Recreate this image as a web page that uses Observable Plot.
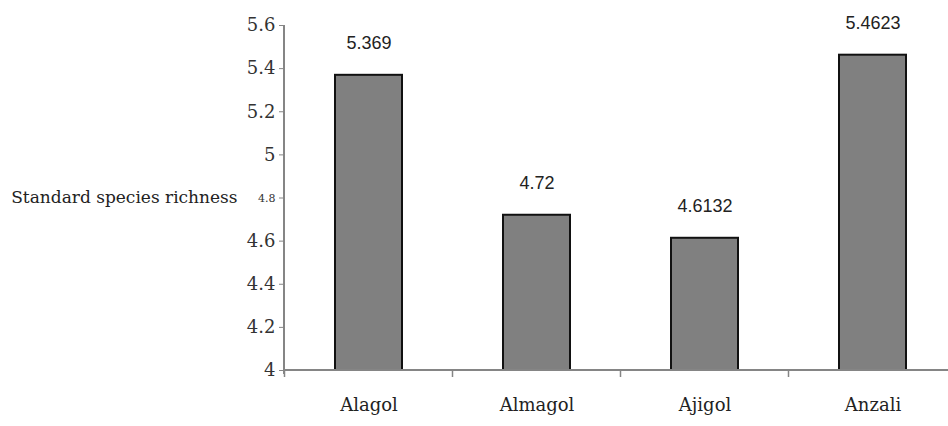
<!DOCTYPE html>
<html>
<head>
<meta charset="utf-8">
<script src="https://cdn.jsdelivr.net/npm/d3@7"></script>
<script src="https://cdn.jsdelivr.net/npm/@observablehq/plot@0.6"></script>
<style>
  html, body { margin: 0; padding: 0; background: #fff; overflow: hidden; }
  #chart svg { display: block; }
</style>
</head>
<body>
<div id="chart"></div>
<script>
// Standard species richness by wetland
const sites = ["Alagol", "Almagol", "Ajigol", "Anzali"];
const richness = [5.369, 4.72, 4.6132, 5.4623];
const valueLabels = ["5.369", "4.72", "4.6132", "5.4623"];
const yTicks = [4, 4.2, 4.4, 4.6, 4.8, 5, 5.2, 5.4, 5.6];
const yTitle = "Standard species richness";

const data = sites.map((site, i) => ({site, value: richness[i], label: valueLabels[i]}));

const serif = "DejaVu Serif";
const axisGray = "#858585";
const fmt = d => String(+d.toFixed(1));

// Axis lines and the category boundary ticks, placed from the scales
function axes(index, scales, values, dimensions) {
  const {x, y} = scales;
  const {width, marginLeft} = dimensions;
  const step = x(sites[1]) - x(sites[0]);
  const bw = typeof x.bandwidth === "function" ? x.bandwidth() : (x.bandwidth ?? step * 0.4);
  const g = d3.create("svg:g").attr("stroke", axisGray).attr("fill", "none");
  const y0 = y(4), y1 = y(5.6);
  g.append("line").attr("x1", marginLeft).attr("x2", width).attr("y1", y0).attr("y2", y0).attr("stroke-width", 2);
  g.append("line").attr("x1", marginLeft).attr("x2", marginLeft).attr("y1", y1).attr("y2", y0 + 4).attr("stroke-width", 2);
  for (let i = 0; i <= sites.length; i++) {
    const c = i < sites.length ? x(sites[i]) + bw / 2 - step / 2 : x(sites[i - 1]) + bw / 2 + step / 2;
    g.append("line").attr("x1", c).attr("x2", c).attr("y1", y0).attr("y2", y0 + 7).attr("stroke-width", 1.5);
  }
  return g.node();
}

const chart = Plot.plot({
  width: 948,
  height: 426,
  marginTop: 25,
  marginBottom: 56,
  marginLeft: 284,
  marginRight: 0,
  style: {background: "#fff", overflow: "hidden"},
  x: {domain: sites, range: [284, 958], paddingInner: 0.6, paddingOuter: 0.3, axis: null},
  y: {domain: [4, 5.6], axis: null},
  marks: [
    Plot.barY(data, {x: "site", y1: 4, y2: "value", fill: "#808080", stroke: "#111", strokeWidth: 2}),
    Plot.text(data, {x: "site", y: "value", text: "label", dy: -32, fontFamily: "Liberation Sans, Arial, sans-serif", fontSize: 18, fill: "#222"}),
    axes,
    Plot.axisY(yTicks, {ticks: yTicks, tickSize: 5, tickPadding: 4, tickFormat: d => d === 4.8 ? "" : fmt(d), fontFamily: serif, fontSize: 18, fill: "#333", stroke: axisGray, label: null}),
    Plot.text([4.8], {y: d => d, text: d => fmt(d), frameAnchor: "left", textAnchor: "end", dx: -9, fontFamily: serif, fontSize: 11, fill: "#333"}),
    Plot.text([yTitle], {y: () => 4.8, frameAnchor: "left", textAnchor: "end", dx: -47, fontFamily: serif, fontSize: 17, fill: "#222"}),
    Plot.axisX({tickSize: 0, tickPadding: 28, fontFamily: serif, fontSize: 18, fill: "#222", label: null})
  ]
});

document.getElementById("chart").append(chart);
</script>
</body>
</html>
